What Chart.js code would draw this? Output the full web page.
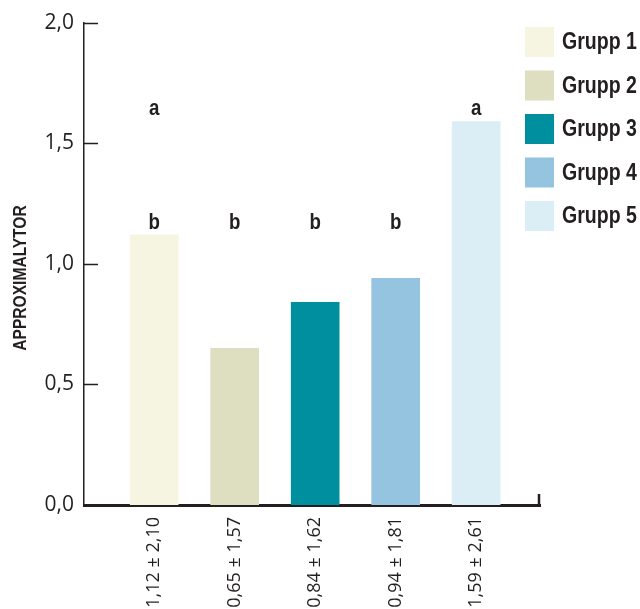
<!DOCTYPE html>
<html>
<head>
<meta charset="utf-8">
<style>
  html, body { margin: 0; padding: 0; background: #ffffff; }
  #wrap { width: 640px; height: 609px; position: relative; }
</style>
<script src="https://cdn.jsdelivr.net/npm/chart.js@4/dist/chart.umd.min.js"></script>
</head>
<body>
<div id="wrap"><canvas id="chart" width="640" height="609"></canvas></div>
<script>
// Group names, mean values and the "mean ± SD" labels under each bar
const groups = ['Grupp 1', 'Grupp 2', 'Grupp 3', 'Grupp 4', 'Grupp 5'];
const means = [1.12, 0.65, 0.84, 0.94, 1.59];
const meanSdLabels = ['1,12 ± 2,10', '0,65 ± 1,57', '0,84 ± 1,62', '0,94 ± 1,81', '1,59 ± 2,61'];
// Significance letters: groups sharing a letter do not differ
const sigLetters = ['ab', 'b', 'b', 'b', 'a'];
const yTicks = [0, 0.5, 1.0, 1.5, 2.0];
const groupColors = ['#f5f5e2', '#dedfc0', '#008f9e', '#95c4e0', '#dbedf5'];
const yTitle = 'APPROXIMALYTOR';

const INK = '#231f20';
const BOLD = "bold {s}px 'Liberation Sans', Arial, sans-serif";
const REGULAR = "'Open Sans', 'Liberation Sans', sans-serif";

const fmt = v => v.toFixed(1).replace('.', ',');
const boldFont = s => BOLD.replace('{s}', s);

// Condensed bold text: squeeze a regular bold face along the writing direction
function condensedText(ctx, text, x, y, size, squeeze, align, rotate) {
  ctx.save();
  ctx.translate(x, y);
  if (rotate) ctx.rotate(rotate);
  ctx.scale(squeeze, 1);
  ctx.font = boldFont(size);
  ctx.textAlign = align;
  ctx.fillText(text, 0, 0);
  ctx.restore();
}

// Inward y ticks, the closing tick at the right end of the baseline,
// axis title, significance letters and the legend column
const decorations = {
  id: 'decorations',
  afterDatasetsDraw(chart) {
    const { ctx, chartArea, scales } = chart;
    const y = scales.y, x = scales.x;
    ctx.save();
    ctx.strokeStyle = INK;
    ctx.lineWidth = 1.5;
    yTicks.forEach(v => {
      if (v === 0) return;
      const py = Math.round(y.getPixelForValue(v)) + 0.5;
      ctx.beginPath();
      ctx.moveTo(chartArea.left, py);
      ctx.lineTo(chartArea.left + 14, py);
      ctx.stroke();
    });
    ctx.lineWidth = 2.5;
    ctx.beginPath();
    ctx.moveTo(chartArea.right - 1, chartArea.bottom + 1);
    ctx.lineTo(chartArea.right - 1, chartArea.bottom - 11);
    ctx.stroke();

    ctx.fillStyle = INK;
    ctx.textBaseline = 'middle';
    condensedText(ctx, yTitle, 21, 278, 19, 0.82, 'center', -Math.PI / 2);

    // letters sit just above the tallest bar among groups sharing them
    ctx.textBaseline = 'alphabetic';
    sigLetters.forEach((letters, i) => {
      letters.split('').forEach(letter => {
        let top = 0;
        sigLetters.forEach((l, j) => { if (l.includes(letter)) top = Math.max(top, means[j]); });
        const px = x.getPixelForValue(i);
        const py = y.getPixelForValue(top) - 6;
        condensedText(ctx, letter, px, py, 22, 0.85, 'center', 0);
      });
    });

    // legend
    ctx.textBaseline = 'middle';
    groups.forEach((g, i) => {
      const top = 27 + i * 43.5;
      ctx.fillStyle = groupColors[i];
      ctx.fillRect(525, top, 29, 30);
      ctx.fillStyle = INK;
      condensedText(ctx, g, 562, top + 16, 23, 0.85, 'left', 0);
    });
    ctx.restore();
  }
};

new Chart(document.getElementById('chart'), {
  type: 'bar',
  data: {
    datasets: [{
      data: means.map((v, i) => ({ x: i, y: v })),
      backgroundColor: groupColors,
      borderWidth: 0,
      barThickness: 48
    }]
  },
  options: {
    responsive: false,
    animation: false,
    events: [],
    layout: { padding: { top: 22, right: 100, left: 0, bottom: 0 } },
    plugins: { legend: { display: false }, tooltip: { enabled: false } },
    scales: {
      x: {
        type: 'linear',
        offset: false,
        bounds: 'data',
        min: -0.872,
        max: 4.793,
        afterBuildTicks: s => { s.ticks = meanSdLabels.map((_, i) => ({ value: i })); },
        afterFit: s => { s.height = 104; },
        grid: { display: false, drawTicks: false, offset: false },
        border: { display: true, color: INK, width: 3 },
        ticks: {
          autoSkip: false,
          minRotation: 90,
          maxRotation: 90,
          padding: 12,
          color: INK,
          font: { family: REGULAR, size: 18 },
          callback: v => meanSdLabels[v] ?? ''
        }
      },
      y: {
        min: 0,
        max: 2,
        afterBuildTicks: s => { s.ticks = yTicks.map(v => ({ value: v })); },
        afterFit: s => { s.width = 84; },
        grid: { display: false, drawTicks: false },
        border: { display: true, color: INK, width: 1.5 },
        ticks: {
          padding: 10,
          color: INK,
          font: { family: REGULAR, size: 21 },
          callback: v => fmt(v)
        }
      }
    }
  },
  plugins: [decorations]
});
</script>
</body>
</html>
